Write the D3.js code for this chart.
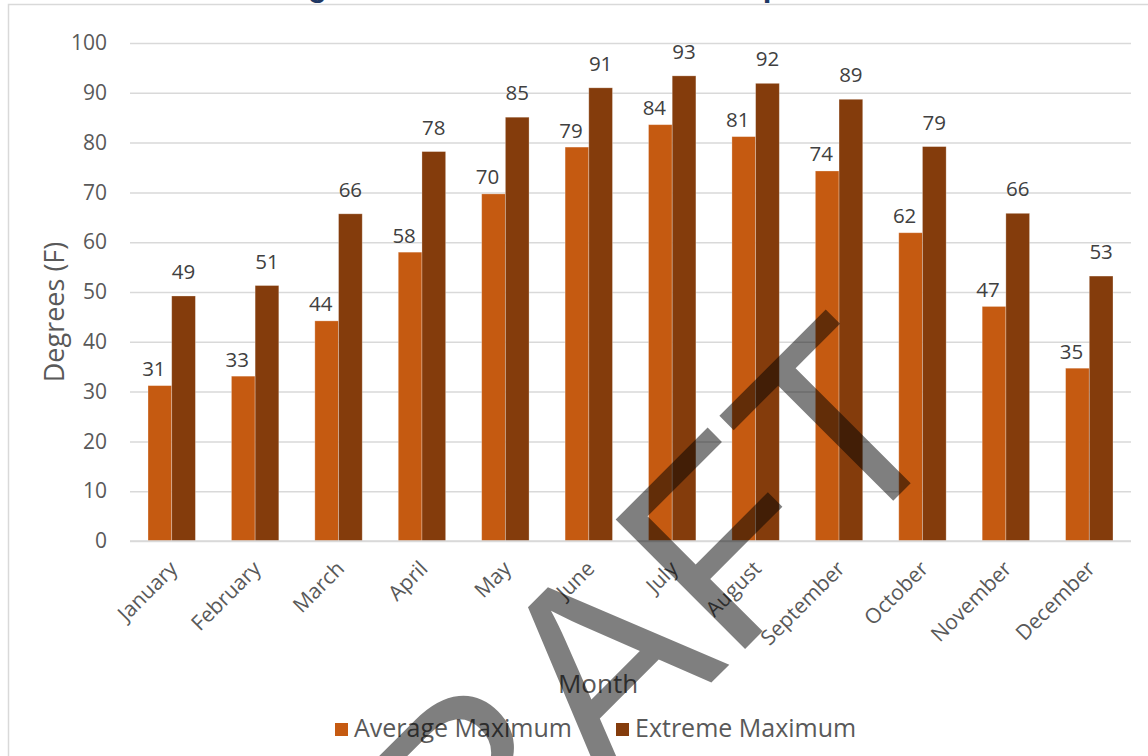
<!DOCTYPE html>
<html>
<head>
<meta charset="utf-8">
<script src="https://cdn.jsdelivr.net/npm/d3@7"></script>
<style>
  html, body { margin: 0; padding: 0; background: #fff; overflow: hidden; }
  svg { display: block; }
</style>
</head>
<body>
<svg id="chart" width="1148" height="756"></svg>
<script>
// Monthly maximum temperatures (degrees F)
const months = ["January", "February", "March", "April", "May", "June",
                "July", "August", "September", "October", "November", "December"];
const averageMaximum = [31.2, 33.1, 44.2, 58.0, 69.7, 79.1, 83.6, 81.2, 74.3, 61.9, 47.1, 34.7];
const extremeMaximum = [49.2, 51.3, 65.7, 78.2, 85.1, 91.0, 93.4, 91.9, 88.7, 79.2, 65.8, 53.2];
const seriesNames = ["Average Maximum", "Extreme Maximum"];
const yTicks = [0, 10, 20, 30, 40, 50, 60, 70, 80, 90, 100];
const titleText = "Average and Extreme Maximum Temperatures";

const colors = { "Average Maximum": "#C55A11", "Extreme Maximum": "#843C0C" };
const rows = months.map((m, i) => ({
  month: m,
  values: [
    { key: seriesNames[0], value: averageMaximum[i] },
    { key: seriesNames[1], value: extremeMaximum[i] }
  ]
}));

const svg = d3.select("#chart");
const plot = { left: 130, right: 1131, top: 43, bottom: 541 };

// Title sits above the chart frame; only its descenders show
const title = svg.append("text")
  .attr("font-family", "Liberation Sans, Arial, sans-serif")
  .attr("font-weight", "bold")
  .attr("font-size", 30)
  .attr("fill", "#1F3864")
  .text(titleText);
{
  const gi = titleText.indexOf("g"), pi = titleText.indexOf("p");
  const n = title.node();
  const d = n.getStartPositionOfChar(pi).x - n.getStartPositionOfChar(gi).x;
  const fs = 30 * 455 / d;
  title.attr("font-size", fs);
  const gx = n.getStartPositionOfChar(gi).x;
  title.attr("x", 308 - gx).attr("y", 3 - fs * 0.21);
}

// Chart frame
svg.append("rect")
  .attr("x", 8.5).attr("y", 4.5)
  .attr("width", 1200).attr("height", 800)
  .attr("fill", "#fff")
  .attr("stroke", "#d9d9d9").attr("stroke-width", 1.5);

const x0 = d3.scaleBand()
  .domain(months)
  .range([plot.left, plot.right])
  .paddingInner(0.432)
  .paddingOuter(0.216);
const x1 = d3.scaleBand()
  .domain(seriesNames)
  .range([0, x0.bandwidth()]);
const y = d3.scaleLinear().domain([0, 100]).range([plot.bottom, plot.top]);

// Gridlines and y tick labels
const yAxis = d3.axisLeft(y).tickValues(yTicks)
  .tickSize(-(plot.right - plot.left)).tickPadding(23);
const gy = svg.append("g")
  .attr("transform", `translate(${plot.left},0)`)
  .call(yAxis);
gy.select(".domain").remove();
gy.selectAll(".tick line").attr("stroke", "#d9d9d9").attr("stroke-width", 1.5);
gy.selectAll(".tick text")
  .attr("font-family", "Open Sans, sans-serif")
  .attr("font-size", 21)
  .attr("fill", "#595959");

// Bars
const groups = svg.append("g").selectAll("g")
  .data(rows).join("g")
  .attr("transform", d => `translate(${x0(d.month)},0)`);
groups.selectAll("rect")
  .data(d => d.values).join("rect")
  .attr("x", d => x1(d.key))
  .attr("width", x1.bandwidth())
  .attr("y", d => y(d.value))
  .attr("height", d => y(0) - y(d.value))
  .attr("fill", d => colors[d.key])
  .attr("stroke", "rgba(255,255,255,0.35)")
  .attr("stroke-width", 0.8);

// Data labels
const fmt = d3.format(".0f");
groups.selectAll("text")
  .data(d => d.values).join("text")
  .attr("x", d => x1(d.key) + x1.bandwidth() / 2 + (d.key === seriesNames[0] ? -6 : 0))
  .attr("y", d => y(d.value) - (d.key === seriesNames[0] ? 9.5 : 17))
  .attr("text-anchor", "middle")
  .attr("font-family", "Open Sans, sans-serif")
  .attr("font-size", 20.5)
  .attr("fill", "#404040")
  .text(d => fmt(d.value));

// Baseline
svg.append("line")
  .attr("x1", plot.left).attr("x2", plot.right)
  .attr("y1", y(0)).attr("y2", y(0))
  .attr("stroke", "#d9d9d9").attr("stroke-width", 1.5);

// Month labels, rotated
const xAxis = d3.axisBottom(x0).tickSize(0).tickPadding(0);
const gx = svg.append("g")
  .attr("transform", `translate(0,${plot.bottom})`)
  .call(xAxis);
gx.select(".domain").remove();
gx.selectAll(".tick text")
  .attr("font-family", "Open Sans, sans-serif")
  .attr("font-size", 21)
  .attr("fill", "#595959")
  .attr("text-anchor", "end")
  .attr("dy", 0)
  .attr("y", 0)
  .attr("transform", "translate(7,29) rotate(-45)");

// Axis titles
svg.append("text")
  .attr("transform", "translate(64,312) rotate(-90)")
  .attr("text-anchor", "middle")
  .attr("font-family", "Open Sans, sans-serif")
  .attr("font-size", 27)
  .attr("fill", "#595959")
  .text("Degrees (F)");

svg.append("text")
  .attr("x", 598).attr("y", 693)
  .attr("text-anchor", "middle")
  .attr("font-family", "Open Sans, sans-serif")
  .attr("font-size", 26)
  .attr("fill", "#595959")
  .text("Month");

// Legend
const legendPos = [335, 616];
const legend = svg.append("g").selectAll("g")
  .data(seriesNames).join("g")
  .attr("transform", (d, i) => `translate(${legendPos[i]},723)`);
legend.append("rect")
  .attr("width", 13).attr("height", 13)
  .attr("fill", d => colors[d]);
legend.append("text")
  .attr("x", 19).attr("y", 13.5)
  .attr("font-family", "Open Sans, sans-serif")
  .attr("font-size", 25)
  .attr("fill", "#595959")
  .text(d => d);

// DRAFT watermark
svg.append("text")
  .attr("transform", "translate(646,748) rotate(-45)")
  .attr("text-anchor", "middle")
  .attr("font-family", "Liberation Sans, Arial, sans-serif")
  .attr("font-size", 266)
  .attr("fill", "#000")
  .attr("fill-opacity", 0.5)
  .text("DRAFT");
</script>
</body>
</html>
